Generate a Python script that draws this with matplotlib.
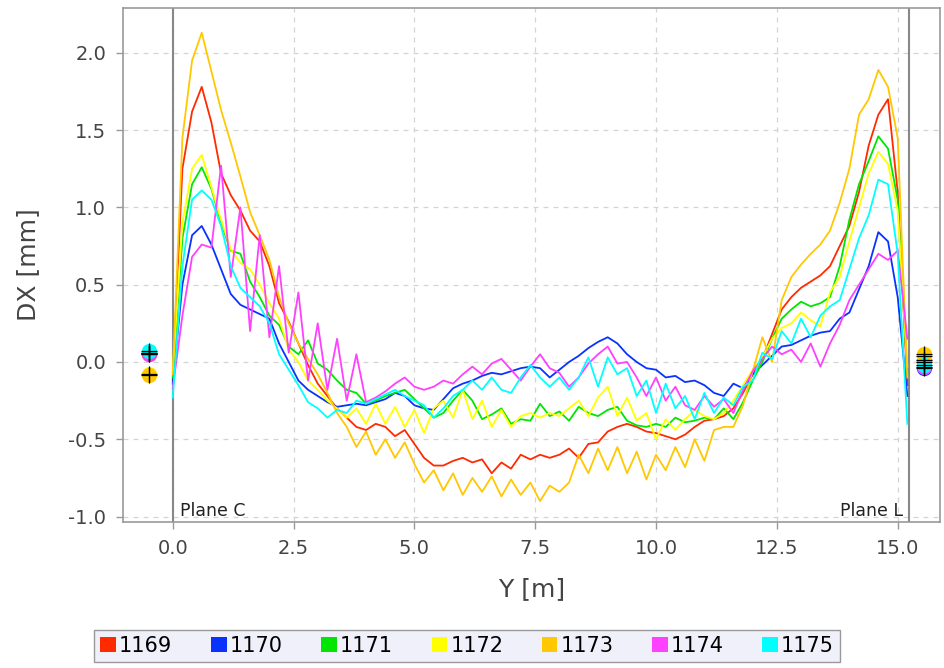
import numpy as np
import matplotlib
matplotlib.use('Agg')
import matplotlib.pyplot as plt
from matplotlib.patches import Patch

# measurement positions along the beam [m]
y_pos = np.round(np.arange(0.0, 15.21, 0.2), 2)

runs = ['1169', '1170', '1171', '1172', '1173', '1174', '1175']
colors = ['#ff2a00', '#0a32ff', '#00e600', '#ffff00', '#ffc800', '#ff40ff', '#00ffff']

dx_1169 = [-0.12, 1.25, 1.62, 1.78, 1.55, 1.22, 1.08, 0.98, 0.85, 0.78,
           0.62, 0.38, 0.26, 0.12, -0.02, -0.14, -0.22, -0.30, -0.36, -0.42,
           -0.44, -0.40, -0.42, -0.48, -0.44, -0.53, -0.62, -0.67, -0.67, -0.64,
           -0.62, -0.65, -0.63, -0.72, -0.65, -0.69, -0.60, -0.63, -0.60, -0.62,
           -0.60, -0.56, -0.62, -0.53, -0.52, -0.45, -0.42, -0.40, -0.42, -0.45,
           -0.46, -0.48, -0.50, -0.47, -0.42, -0.38, -0.37, -0.35, -0.30, -0.20,
           -0.08, 0.02, 0.18, 0.34, 0.42, 0.48, 0.52, 0.56, 0.62, 0.75,
           0.88, 1.10, 1.40, 1.60, 1.70, 1.10, -0.15]
dx_1170 = [-0.14, 0.50, 0.82, 0.88, 0.76, 0.60, 0.44, 0.37, 0.34, 0.31,
           0.28, 0.12, 0.00, -0.12, -0.18, -0.22, -0.26, -0.29, -0.28, -0.27,
           -0.28, -0.26, -0.24, -0.20, -0.22, -0.28, -0.30, -0.31, -0.24, -0.17,
           -0.14, -0.12, -0.09, -0.07, -0.08, -0.06, -0.04, -0.03, -0.04, -0.10,
           -0.05, 0.00, 0.04, 0.09, 0.13, 0.16, 0.12, 0.05, 0.00, -0.04,
           -0.05, -0.10, -0.09, -0.13, -0.12, -0.15, -0.20, -0.22, -0.14, -0.17,
           -0.08, -0.02, 0.04, 0.10, 0.11, 0.14, 0.17, 0.19, 0.20, 0.28,
           0.32, 0.47, 0.62, 0.84, 0.78, 0.42, -0.22]
dx_1171 = [-0.10, 0.80, 1.15, 1.26, 1.12, 0.90, 0.72, 0.70, 0.52, 0.42,
           0.30, 0.24, 0.10, 0.05, 0.14, -0.01, -0.05, -0.12, -0.18, -0.20,
           -0.27, -0.25, -0.22, -0.20, -0.18, -0.24, -0.30, -0.36, -0.33, -0.25,
           -0.18, -0.25, -0.37, -0.34, -0.30, -0.40, -0.37, -0.38, -0.27, -0.35,
           -0.32, -0.38, -0.29, -0.33, -0.35, -0.31, -0.29, -0.38, -0.41, -0.42,
           -0.40, -0.42, -0.36, -0.39, -0.38, -0.36, -0.37, -0.30, -0.37, -0.26,
           -0.12, 0.00, 0.15, 0.28, 0.34, 0.39, 0.36, 0.38, 0.42, 0.62,
           0.92, 1.15, 1.30, 1.46, 1.38, 1.05, -0.08]
dx_1172 = [-0.06, 0.90, 1.25, 1.34, 1.13, 0.92, 0.73, 0.64, 0.60, 0.50,
           0.38, 0.28, 0.08, 0.00, -0.12, -0.18, -0.25, -0.30, -0.36, -0.30,
           -0.40, -0.27, -0.40, -0.29, -0.42, -0.31, -0.46, -0.30, -0.25, -0.36,
           -0.18, -0.37, -0.25, -0.42, -0.31, -0.42, -0.35, -0.33, -0.36, -0.33,
           -0.35, -0.30, -0.25, -0.35, -0.23, -0.16, -0.35, -0.23, -0.38, -0.33,
           -0.50, -0.37, -0.44, -0.37, -0.31, -0.35, -0.37, -0.33, -0.25, -0.15,
           -0.05, 0.03, 0.15, 0.22, 0.25, 0.32, 0.27, 0.23, 0.45, 0.55,
           0.78, 1.00, 1.22, 1.36, 1.28, 0.98, -0.03]
dx_1173 = [-0.08, 1.45, 1.95, 2.13, 1.88, 1.63, 1.42, 1.20, 0.97, 0.82,
           0.66, 0.42, 0.25, 0.12, 0.02, -0.08, -0.20, -0.33, -0.42, -0.55,
           -0.45, -0.60, -0.50, -0.62, -0.52, -0.66, -0.78, -0.70, -0.83, -0.72,
           -0.86, -0.75, -0.84, -0.74, -0.87, -0.76, -0.86, -0.78, -0.90, -0.80,
           -0.84, -0.78, -0.60, -0.72, -0.56, -0.70, -0.55, -0.72, -0.58, -0.76,
           -0.60, -0.70, -0.55, -0.68, -0.50, -0.64, -0.44, -0.42, -0.42, -0.28,
           -0.06, 0.16, 0.00, 0.40, 0.55, 0.63, 0.70, 0.76, 0.85, 1.03,
           1.25, 1.60, 1.70, 1.89, 1.78, 1.45, -0.10]
dx_1174 = [-0.17, 0.30, 0.68, 0.76, 0.74, 1.27, 0.55, 1.00, 0.20, 0.82,
           0.16, 0.62, 0.06, 0.45, -0.12, 0.25, -0.18, 0.15, -0.25, 0.05,
           -0.26, -0.23, -0.19, -0.14, -0.10, -0.16, -0.18, -0.16, -0.12, -0.14,
           -0.08, -0.03, -0.08, -0.01, 0.02, -0.05, -0.12, -0.03, 0.05, -0.04,
           -0.07, -0.16, -0.10, -0.01, 0.05, 0.10, -0.01, 0.00, -0.10, -0.22,
           -0.10, -0.25, -0.16, -0.28, -0.31, -0.22, -0.29, -0.24, -0.33, -0.18,
           -0.06, 0.02, 0.10, 0.05, 0.08, 0.00, 0.12, -0.03, 0.12, 0.24,
           0.40, 0.50, 0.60, 0.70, 0.66, 0.72, 0.15]
dx_1175 = [-0.23, 0.62, 1.05, 1.11, 1.05, 0.88, 0.62, 0.48, 0.42, 0.36,
           0.25, 0.05, -0.05, -0.15, -0.26, -0.30, -0.36, -0.31, -0.33, -0.25,
           -0.27, -0.24, -0.21, -0.18, -0.22, -0.25, -0.28, -0.36, -0.30, -0.22,
           -0.18, -0.12, -0.18, -0.10, -0.18, -0.20, -0.10, -0.02, -0.10, -0.16,
           -0.10, -0.18, -0.10, 0.03, -0.16, 0.03, -0.08, -0.04, -0.22, -0.12,
           -0.33, -0.14, -0.30, -0.22, -0.37, -0.20, -0.33, -0.23, -0.28, -0.16,
           -0.12, 0.06, 0.02, 0.20, 0.12, 0.28, 0.16, 0.30, 0.36, 0.40,
           0.60, 0.80, 0.95, 1.18, 1.15, 0.70, -0.40]

series = [dx_1169, dx_1170, dx_1171, dx_1172, dx_1173, dx_1174, dx_1175]

# plane positions and the single readings at each plane
plane_c = 0.0
plane_l = 15.24
plane_c_marker = -0.5
plane_l_marker = 15.55
plane_c_dx = [0.05, 0.06, 0.06, -0.075, -0.085, 0.05, 0.07]
plane_l_dx = [0.01, -0.04, 0.00, 0.04, 0.05, -0.03, -0.02]

fig = plt.figure(figsize=(9.44, 6.68), dpi=100)
ax = fig.add_axes([0.130, 0.2186, 0.866, 0.7694])

ax.axvline(plane_c, color='#888888', lw=1.5, zorder=1.5)
ax.axvline(plane_l, color='#888888', lw=1.5, zorder=1.5)

for vals, col in zip(series, colors):
    ax.plot(y_pos, vals, color=col, lw=1.3, zorder=2)

for xm, vals in [(plane_c_marker, plane_c_dx), (plane_l_marker, plane_l_dx)]:
    for v, col in zip(vals, colors):
        ax.plot(xm, v, 'o', ms=11, color=col, mec='none', zorder=3)
    for v in vals:
        ax.plot(xm, v, '+', ms=12, color='black', mew=0.9, zorder=4)

ax.text(0.15, -1.02, 'Plane C', fontsize=12.5, color='#222222', ha='left', va='bottom')
ax.text(15.1, -1.02, 'Plane L', fontsize=12.5, color='#222222', ha='right', va='bottom')

ax.set_xlim(-1.035, 15.88)
ax.set_ylim(-1.035, 2.29)
ax.set_xticks([0.0, 2.5, 5.0, 7.5, 10.0, 12.5, 15.0])
ax.set_yticks([-1.0, -0.5, 0.0, 0.5, 1.0, 1.5, 2.0])
ax.set_xticklabels(['0.0', '2.5', '5.0', '7.5', '10.0', '12.5', '15.0'])
ax.set_yticklabels(['-1.0', '-0.5', '0.0', '0.5', '1.0', '1.5', '2.0'])

ax.grid(True, color='#d4d4d4', linestyle=(0, (4, 4)), linewidth=0.9)
ax.set_axisbelow(True)
for s in ax.spines.values():
    s.set_color('#999999')
    s.set_linewidth(1.2)
ax.tick_params(direction='out', length=5, width=1, colors='#999999',
               labelcolor='#444444', labelsize=14, pad=7)

ax.set_xlabel('Y [m]', fontsize=18, color='#444444', labelpad=14)
ax.set_ylabel('DX [mm]', fontsize=18, color='#444444', labelpad=20)

handles = [Patch(facecolor=c, edgecolor='none', label=r) for r, c in zip(runs, colors)]
leg = fig.legend(handles=handles, loc='center', bbox_to_anchor=(0.495, 0.033),
                 ncol=7, fontsize=15, frameon=True, fancybox=False,
                 handlelength=0.75, handleheight=0.75, handletextpad=0.15,
                 columnspacing=1.85, borderpad=0.3)
leg.get_frame().set_facecolor('#f0f0fa')
leg.get_frame().set_edgecolor('#999999')
leg.get_frame().set_alpha(1)

plt.savefig('out.png', dpi=100)
plt.close()
